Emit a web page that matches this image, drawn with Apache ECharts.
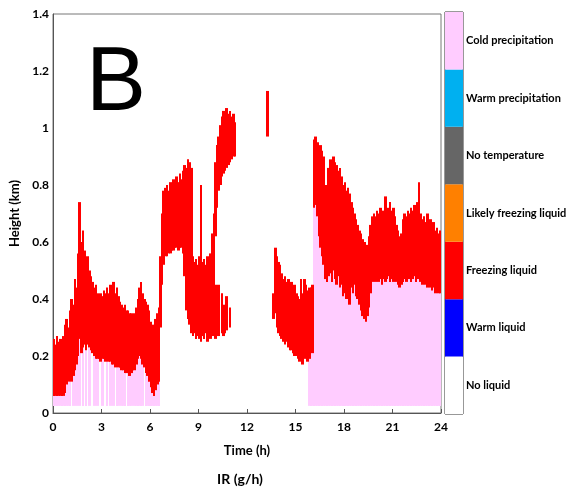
<!DOCTYPE html>
<html><head><meta charset="utf-8">
<script src="https://cdn.jsdelivr.net/npm/echarts@6/dist/echarts.min.js"></script>
<style>html,body{margin:0;padding:0;background:#fff}#c{width:571px;height:491px}</style>
</head><body><div id="c"></div>
<script>
// ---- data (0.1 h bins, index i -> time i/10 h) ----
const binHours = 0.1;
const xTicks = [0, 3, 6, 9, 12, 15, 18, 21, 24];
const classNames = ['No liquid','Warm liquid','Freezing liquid','Likely freezing liquid','No temperature','Warm precipitation','Cold precipitation'];
const N = null;
// top of freezing-liquid layer (km)
const liquidTop = [
 .26,.24,.27,.25,.26,.24,.27,.31,.33,.30,
 .36,.40,.38,.47,.44,.56,.74,.60,.64,.57,
 .53,.55,.50,.48,.46,.44,.45,.42,.41,.42,
 .41,.43,.42,.44,.42,.45,.43,.46,.42,.44,
 .41,.39,.38,.37,.38,.36,.36,.35,.35,.34,
 .35,.37,.40,.44,.46,.42,.40,.39,.38,.36,
 .32,.31,.30,.33,.35,.37,.55,.70,.78,.79,
 .80,.78,.81,.79,.82,.80,.83,.81,.84,.82,
 .85,.87,.86,.89,.88,.86,.55,.53,.54,.52,
 .55,.80,.53,.54,.52,.55,.54,.56,.63,.70,
 .88,.94,.97,1.01,1.04,1.06,1.03,1.07,1.05,1.06,
 1.04,1.05,1.02,N,N,N,N,N,N,N,
 N,N,N,N,N,N,N,N,N,N,
 N,N,1.13,N,N,N,.42,.58,.55,.53,
 .52,.49,.47,.48,.46,.47,.44,.46,.43,.45,
 .42,.41,.40,.47,.42,.47,.45,.43,.44,.44,
 .45,.96,.97,.95,.93,.94,.92,.90,.80,.78,
 .86,.89,.88,.90,.88,.87,.85,.86,.83,.80,
 .81,.78,.79,.77,.74,.72,.70,.68,.66,.64,
 .63,.61,.60,.58,.59,.62,.66,.69,.70,.69,
 .71,.70,.72,.69,.71,.76,.70,.72,.74,.71,
 .72,.69,.66,.64,.62,.63,.68,.70,.69,.71,
 .70,.72,.71,.73,.70,.74,.81,.70,.68,.69,
 .67,.70,.66,.68,.66,.67,.64,.65,.63,.64
];
// bottom of freezing-liquid layer (km)
const liquidBase = [
 .06,.06,.06,.06,.06,.06,.06,.07,.10,.11,
 .12,.11,.13,.15,.17,.20,.26,.21,.23,.24,
 .22,.24,.23,.22,.21,.20,.19,.19,.19,.18,
 .19,.19,.18,.19,.18,.18,.17,.17,.16,.17,
 .16,.16,.15,.15,.14,.14,.14,.13,.14,.15,
 .15,.17,.19,.20,.19,.17,.16,.14,.13,.11,
 .09,.07,.06,.08,.10,.11,.30,.45,.52,.55,
 .55,.56,.56,.57,.57,.58,.58,.57,.58,.58,
 .56,.48,.36,.33,.31,.28,.27,.28,.26,.27,
 .26,.25,.27,.26,.28,.25,.27,.26,.27,.30,
 .62,.72,.78,.80,.83,.84,.85,.86,.87,.88,
 .89,.90,.90,N,N,N,N,N,N,N,
 N,N,N,N,N,N,N,N,N,N,
 N,N,.97,N,N,N,.33,.35,.30,.28,
 .27,.26,.25,.24,.25,.23,.22,.22,.21,.20,
 .20,.19,.18,.19,.17,.19,.20,.18,.19,.22,
 .21,.72,.73,.69,.62,.58,.55,.52,.47,.46,
 .48,.49,.46,.50,.47,.45,.48,.44,.45,.41,
 .42,.40,.43,.38,.44,.42,.45,.41,.40,.38,
 .36,.34,.33,.32,.34,.37,.42,.46,.47,.46,
 .47,.46,.47,.45,.47,.46,.47,.48,.46,.47,
 .46,.47,.46,.45,.44,.45,.46,.47,.46,.47,
 .47,.46,.47,.48,.46,.47,.47,.46,.45,.46,
 .45,.44,.46,.44,.43,.44,.42,.43,.42,.42
];
// top of cold-precipitation column (km), null = none
const precipTop = [
 .06,.06,.06,.06,.06,.06,.06,.07,.10,.11,
 .12,N,.13,N,.17,N,.26,N,.23,N,
 .22,N,.23,N,N,.20,N,.19,N,N,
 .19,N,N,.19,N,.18,N,.17,N,.17,
 .16,N,.15,.15,.14,N,.14,.13,.14,N,
 .15,.17,.19,.20,.19,.17,N,.14,.13,.11,
 .09,.07,.06,.08,.10,.11,N,N,N,N,
 N,N,N,N,N,N,N,N,N,N,
 N,N,N,N,N,N,N,N,N,N,
 N,N,N,N,N,N,N,N,N,N,
 N,N,N,N,N,N,N,N,N,N,
 N,N,N,N,N,N,N,N,N,N,
 N,N,N,N,N,N,N,N,N,N,
 N,N,N,N,N,N,N,N,N,N,
 N,N,N,N,N,N,N,N,N,N,
 N,N,N,N,N,N,N,N,.19,.22,
 .21,.72,.73,.69,.62,.58,.55,.52,.47,.46,
 .48,.49,.46,.50,.47,.45,.48,.44,.45,.41,
 .42,.40,.43,.38,.44,.42,.45,.41,.40,.38,
 .36,.34,.33,.32,.34,.37,.42,.46,.47,.46,
 .47,.46,.47,.45,.47,.46,.47,.48,.46,.47,
 .46,.47,.46,.45,.44,.45,.46,.47,.46,.47,
 .47,.46,.47,.48,.46,.47,.47,.46,.45,.46,
 .45,.44,.46,.44,.43,.44,.42,.43,.42,.42
];
const precipBase = 0.025;
// secondary (lower) liquid layer, 10.0 - 10.9 h
const lowerLayerStart = 10.0;
const lowerLayerTop  = [.45,.40,.45,N,.42,.38,.35,.41,N,.37];
const lowerLayerBase = [.26,.28,.27,N,.28,.27,.28,.29,N,.30];

// ---- styles ----
const classColors = ['#ffffff','#0000ff','#ff0000','#ff8000','#666666','#00b0f0','#ffccff'];
const RED = '#ff0000', PINK = '#ffccff';
const FONT = 'Lato';

function bins(lo, hi, start){
  const out = [];
  for (let i = 0; i < hi.length; i++) {
    const l = Array.isArray(lo) ? lo[i] : lo;
    if (hi[i] == null || l == null) continue;
    out.push([+(start + i * binHours).toFixed(2), l, hi[i]]);
  }
  return out;
}
function rectItem(color){
  return function(params, api){
    const t = api.value(0), lo = api.value(1), hi = api.value(2);
    const a = api.coord([t, hi]);
    const b = api.coord([t + binHours, lo]);
    const x0 = Math.floor(a[0]), x1 = Math.ceil(b[0]);
    return {type:'rect', shape:{x:x0, y:a[1], width:Math.max(1, x1 - x0), height:b[1]-a[1]},
            style:{fill:color, stroke:null, lineWidth:0}};
  };
}
function band(name, data, color){
  return {type:'custom', name, xAxisIndex:0, yAxisIndex:0, clip:true,
    renderItem: rectItem(color), encode:{x:0, y:[1,2]}, data, silent:true};
}

const chart = echarts.init(document.getElementById('c'), null, {renderer:'canvas'});
const lbl = {color:'#000', fontWeight:'bold', fontFamily:FONT, fontSize:12};
chart.setOption({
  animation:false,
  backgroundColor:'#fff',
  grid:[
    {left:53, top:14, width:388, height:399, show:true, borderColor:'#777', borderWidth:1},
    {left:445, top:12, width:18, height:402, show:true, borderColor:'#333', borderWidth:1}
  ],
  xAxis:[
    {gridIndex:0, type:'value', min:xTicks[0], max:xTicks[xTicks.length-1], interval:3,
     axisLine:{lineStyle:{color:'#555'}}, axisTick:{inside:true, length:4, lineStyle:{color:'#555'}},
     splitLine:{show:false}, axisLabel:Object.assign({margin:8}, lbl),
     name:'Time (h)', nameLocation:'middle', nameGap:31,
     nameTextStyle:{color:'#000', fontWeight:'bold', fontFamily:FONT, fontSize:13}},
    {gridIndex:1, type:'value', min:0, max:1, show:false}
  ],
  yAxis:[
    {gridIndex:0, type:'value', min:0, max:1.4, interval:0.2,
     axisLine:{show:true, lineStyle:{color:'#555'}}, axisTick:{show:false},
     splitLine:{show:false}, axisLabel:Object.assign({margin:4}, lbl),
     name:'Height (km)', nameLocation:'middle', nameGap:27,
     nameTextStyle:{color:'#000', fontWeight:'bold', fontFamily:FONT, fontSize:13}},
    {gridIndex:1, type:'category', data:classNames, position:'right',
     axisLine:{show:false}, axisTick:{show:false},
     axisLabel:{margin:3, color:'#000', fontWeight:'bold', fontFamily:FONT, fontSize:11}}
  ],
  graphic:[
    {type:'text', left:86, top:40, style:{text:'B', fontSize:90, fontFamily:'Liberation Sans', fill:'#000'}},
    {type:'text', x:240, y:479, style:{text:'IR (g/h)', fontSize:14, fontWeight:'bold', fontFamily:FONT, fill:'#000', textAlign:'center', textVerticalAlign:'middle'}}
  ],
  series:[
    band('Cold precipitation', bins(precipBase, precipTop, 0), PINK),
    band('Freezing liquid', bins(liquidBase, liquidTop, 0), RED),
    band('Freezing liquid (lower)', bins(lowerLayerBase, lowerLayerTop, lowerLayerStart), RED),
    {type:'bar', xAxisIndex:1, yAxisIndex:1, barCategoryGap:'0%', silent:true,
     data: classNames.map((n, i) => ({value:1, itemStyle:{color:classColors[i]}}))}
  ]
});
</script></body></html>
